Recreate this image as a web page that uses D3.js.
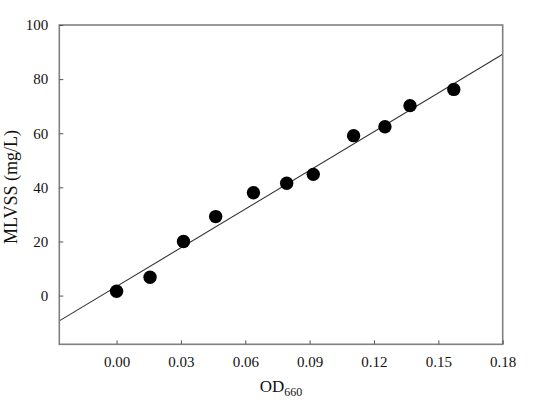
<!DOCTYPE html>
<html><head><meta charset="utf-8">
<script src="https://cdn.jsdelivr.net/npm/d3@7/dist/d3.min.js"></script>
<style>body{margin:0;background:#fff}svg{display:block}</style>
</head><body>
<svg id="c" width="539" height="400"></svg>
<script>
const odValues = [0.000, 0.0156, 0.0312, 0.0462, 0.0638, 0.0793, 0.0917, 0.1105, 0.1251, 0.1368, 0.1572];
const mlvssValues = [1.6, 6.8, 20.0, 29.2, 38.0, 41.5, 44.8, 59.1, 62.4, 70.2, 76.2];
const xTicks = [0.00, 0.03, 0.06, 0.09, 0.12, 0.15, 0.18];
const yTicks = [0, 20, 40, 60, 80, 100];
const fitSlope = 476.8, fitIntercept = 3.38;
const xDomain = [-0.0267, 0.18], yDomain = [-18, 100];

const svg = d3.select("#c");
const L = 59.3, R = 502.7, T = 25, B = 344.3;
const x = d3.scaleLinear().domain(xDomain).range([L, R]);
const y = d3.scaleLinear().domain(yDomain).range([B, T]);
const font = "'Liberation Serif', 'Times New Roman', serif";

svg.append("clipPath").attr("id","clip").append("rect").attr("x",L).attr("y",T).attr("width",R-L).attr("height",B-T);
svg.append("line").attr("clip-path","url(#clip)")
  .attr("x1", x(xDomain[0])).attr("y1", y(fitIntercept + fitSlope*xDomain[0]))
  .attr("x2", x(xDomain[1])).attr("y2", y(fitIntercept + fitSlope*xDomain[1]))
  .attr("stroke","#333").attr("stroke-width",1.1);

svg.selectAll("circle.p").data(odValues).enter().append("circle")
  .attr("cx", d=>x(d)).attr("cy",(d,i)=>y(mlvssValues[i])).attr("r",6.7).attr("fill","#000");

svg.append("rect").attr("x",L).attr("y",T).attr("width",R-L).attr("height",B-T)
  .attr("fill","none").attr("stroke","#808080").attr("stroke-width",1.6);

const xAxis = d3.axisBottom(x).tickValues(xTicks).tickFormat(d3.format(".2f")).tickSizeInner(-4).tickSizeOuter(0).tickPadding(12);
const gx = svg.append("g").attr("transform",`translate(0,${B})`).call(xAxis);
const yAxis = d3.axisLeft(y).tickValues(yTicks).tickFormat(d3.format("d")).tickSizeInner(-4).tickSizeOuter(0).tickPadding(11);
const gy = svg.append("g").attr("transform",`translate(${L},0)`).call(yAxis);
[gx, gy].forEach(g=>{
  g.select(".domain").remove();
  g.selectAll(".tick line").attr("stroke","#555").attr("stroke-width",1);
  g.selectAll(".tick text").attr("font-family",font).attr("font-size",15).attr("fill","#111");
});

const xl = svg.append("text").attr("x",(L+R)/2).attr("y",392).attr("text-anchor","middle")
  .attr("font-family",font).attr("font-size",17).attr("fill","#111");
xl.append("tspan").text("OD");
xl.append("tspan").attr("dy",4).attr("font-size",12).text("660");

svg.append("text").attr("transform",`translate(17,187) rotate(-90)`).attr("text-anchor","middle")
  .attr("font-family",font).attr("font-size",18).attr("fill","#111").text("MLVSS (mg/L)");
</script>
</body></html>
